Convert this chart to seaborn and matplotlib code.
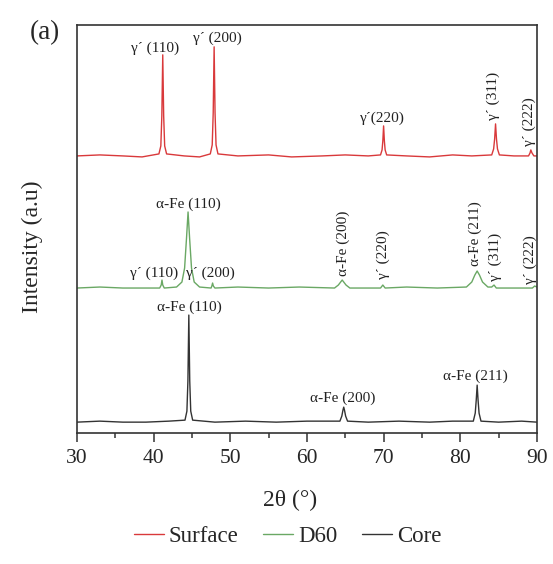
import numpy as np
import matplotlib
matplotlib.use('Agg')
import matplotlib.pyplot as plt
import pandas as pd
import seaborn as sns

# XRD traces (2theta in degrees, intensity in offset a.u.)
surface_x = [30, 33, 36, 38.5, 40.7, 40.95, 41.08, 41.2, 41.32, 41.45, 41.7, 44, 46,
             47.4, 47.65, 47.78, 47.9, 48.02, 48.15, 48.4, 51, 55, 58, 62, 65, 68,
             69.6, 69.8, 69.9, 70.0, 70.1, 70.2, 70.4, 73, 76, 79, 81.5, 84.1, 84.35,
             84.48, 84.6, 84.72, 84.85, 85.1, 87, 88.9, 89.1, 89.2, 89.35, 89.6, 90]
surface_y = [277, 278, 277, 276, 279, 287, 317, 378, 317, 287, 279, 277, 276,
             279, 288, 320, 386, 320, 288, 279, 277, 278, 276, 277, 278, 277,
             278, 283, 292, 307, 292, 283, 278, 277, 276, 278, 277, 278, 284,
             294, 309, 294, 284, 278, 277, 277, 280, 283, 280, 277, 277]

d60_x = [30, 33, 36, 39, 40.8, 41.0, 41.1, 41.2, 41.4, 43.0, 43.7, 44.05, 44.3, 44.5,
         44.7, 44.95, 45.3, 46.0, 47.5, 47.6, 47.7, 47.8, 48.0, 51, 55, 59, 63.6,
         64.1, 64.6, 65.1, 65.6, 69.6, 69.9, 70.2, 73, 77, 80.8, 81.5, 81.9, 82.2,
         82.5, 82.9, 83.6, 84.1, 84.4, 84.7, 87, 89.4, 89.7, 90]
d60_y = [145, 146, 145, 145, 145, 148, 153, 148, 145, 146, 151, 165, 195, 221,
         195, 165, 151, 146, 145, 147, 150, 147, 145, 146, 145, 146, 145,
         148, 153, 148, 145, 145, 148, 145, 146, 145, 146, 151, 158, 162,
         158, 151, 146, 146, 148, 145, 145, 145, 147, 146]

core_x = [30, 33, 36, 39, 42, 44.1, 44.35, 44.48, 44.6, 44.72, 44.85, 45.1, 48, 52,
          56, 60, 64.3, 64.55, 64.7, 64.8, 64.9, 65.05, 65.3, 68, 72, 76, 79, 81.7,
          81.95, 82.08, 82.2, 82.32, 82.45, 82.7, 85, 88, 90]
core_y = [11, 12, 11, 11, 12, 13, 22, 52, 118, 52, 22, 13, 11, 12,
          11, 12, 12, 17, 23, 26, 23, 17, 12, 11, 12, 11, 12, 12,
          20, 33, 48, 33, 20, 12, 11, 12, 11]

series = ['Surface', 'D60', 'Core']
colors = {'Surface': '#d9393b', 'D60': '#6aa864', 'Core': '#333333'}

# peak labels: (text, x, y, rotation)
labels = [
    ("γ´ (110)", 40.2, 385, 0), ("γ´ (200)", 48.3, 395, 0),
    ("γ´(220)", 69.9, 315, 0), ("γ´ (311)", 84.3, 337, 90),
    ("γ´ (222)", 89.0, 311, 90),
    ("α-Fe (110)", 44.5, 229, 0), ("γ´ (110)", 40.1, 160, 0),
    ("γ´ (200)", 47.4, 160, 0), ("α-Fe (200)", 64.7, 190, 90),
    ("γ´ (220)", 69.9, 178, 90), ("α-Fe (211)", 81.9, 199, 90),
    ("γ´ (311)", 84.5, 176, 90), ("γ´ (222)", 89.1, 173, 90),
    ("α-Fe (110)", 44.7, 126, 0), ("α-Fe (200)", 64.7, 35, 0),
    ("α-Fe (211)", 82.0, 57, 0),
]

frame = pd.concat([
    pd.DataFrame({'two_theta': surface_x, 'intensity': surface_y, 'sample': 'Surface'}),
    pd.DataFrame({'two_theta': d60_x, 'intensity': d60_y, 'sample': 'D60'}),
    pd.DataFrame({'two_theta': core_x, 'intensity': core_y, 'sample': 'Core'}),
])

sns.set_style('ticks')
plt.rcParams['font.family'] = ['Liberation Serif', 'DejaVu Serif']

fig = plt.figure(figsize=(5.53, 5.64), dpi=100)
ax = fig.add_axes([0.139, 0.232, 0.832, 0.724])

sns.lineplot(data=frame, x='two_theta', y='intensity', hue='sample',
             hue_order=series, palette=colors, estimator=None, sort=False,
             linewidth=1.0, ax=ax)

for txt, x, y, rot in labels:
    ax.text(x, y, txt, ha='center', va='center', rotation=rot,
            fontsize=11, color='#222222')

ax.set_xlim(30, 90)
ax.set_ylim(0, 408)
ax.set_xticks(np.arange(30, 91, 10))
ax.set_xticks(np.arange(35, 90, 10), minor=True)
ax.set_yticks([])
ax.tick_params(axis='x', which='major', length=6.5, width=1.1, direction='out',
               labelsize=15.5, pad=5, color='#333333')
ax.tick_params(axis='x', which='minor', length=3.5, width=1.1, direction='out',
               color='#333333')
ax.set_xlabel('')
ax.set_ylabel('')
for sp in ax.spines.values():
    sp.set_linewidth(1.2)
    sp.set_color('#333333')

handles, names = ax.get_legend_handles_labels()
ax.legend_.remove()
fig.legend(handles, names, loc='center', bbox_to_anchor=(0.52, 0.048), ncol=3,
           frameon=False, fontsize=16.5, handlelength=1.3, handletextpad=0.2,
           columnspacing=1.1)

fig.text(290 / 553, 1 - 500 / 564, '2θ (°)', ha='center', va='center', fontsize=17)
fig.text(32 / 553, 1 - 247 / 564, 'Intensity (a.u)', ha='center', va='center',
         rotation=90, fontsize=17)
fig.text(45 / 553, 1 - 33 / 564, '(a)', ha='center', va='center', fontsize=19.5)

plt.savefig('out.png', dpi=100)
